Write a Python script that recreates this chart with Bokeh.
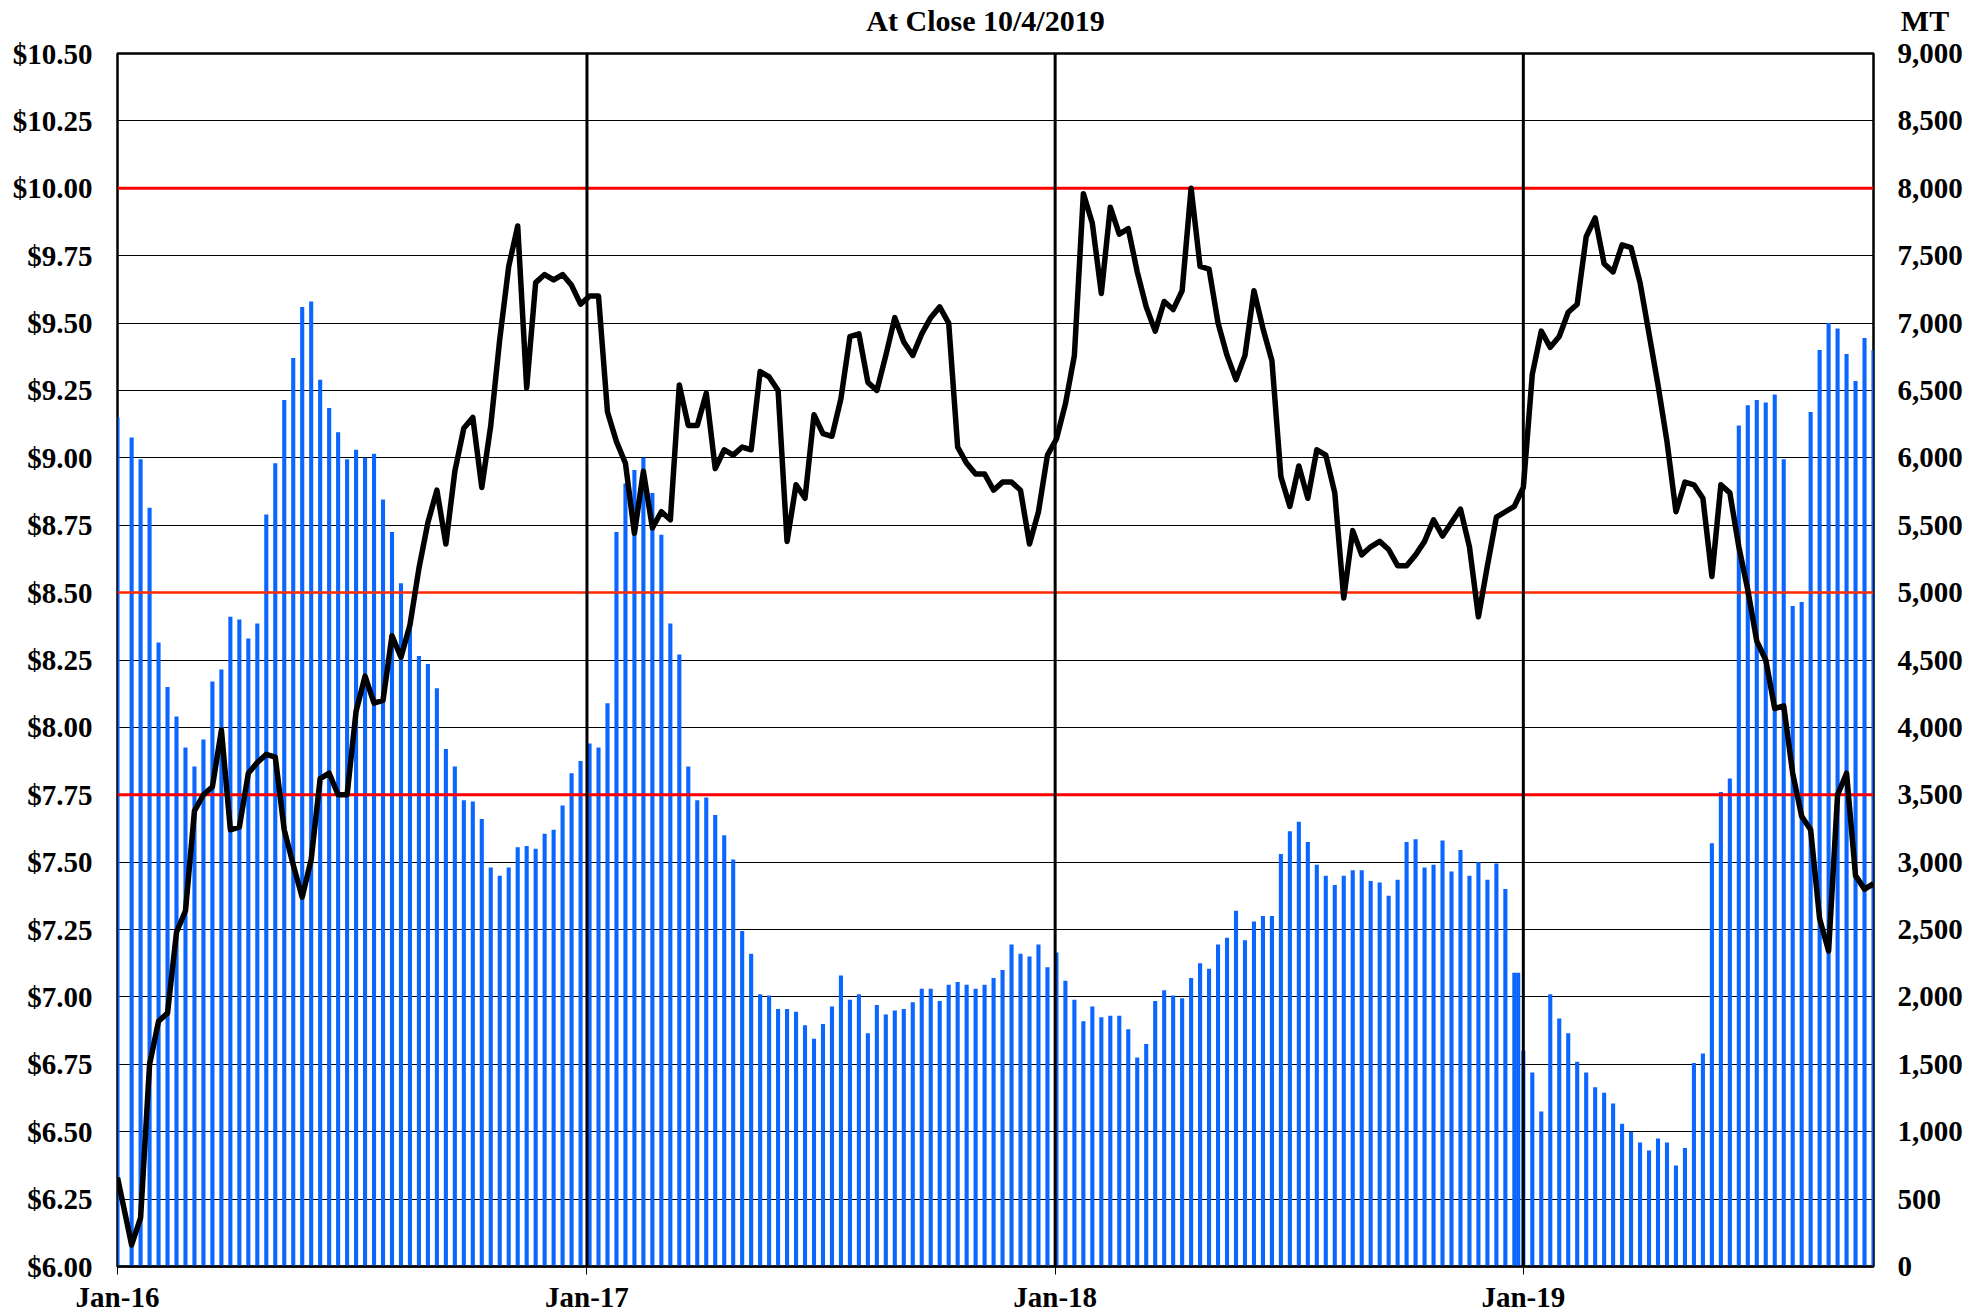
import pandas as pd
from bokeh.plotting import figure
from bokeh.models import (Range1d, LinearAxis, Span, FixedTicker, NumeralTickFormatter,
                          PrintfTickFormatter)
from bokeh.embed import file_html
from bokeh.resources import INLINE

# ---------------- data ----------------
title_text = "At Close 10/4/2019"
unit_text = "MT"

start_date = pd.Timestamp("2016-01-04")
dates = ([start_date]
         + list(pd.date_range("2016-01-15", "2018-12-28", freq="7D"))
         + [pd.Timestamp("2018-12-31")]
         + list(pd.date_range("2019-01-04", "2019-10-04", freq="7D")))

volume_mt = [
    6300, 6150, 5990, 5630, 4630, 4300, 4080, 3850, 3710, 3910,
    4340, 4430, 4820, 4800, 4660, 4770, 5580, 5960, 6430, 6740,
    7120, 7160, 6580, 6370, 6190, 5990, 6060, 6000, 6030, 5690,
    5450, 5070, 4760, 4530, 4470, 4290, 3840, 3710, 3460, 3450,
    3320, 2960, 2900, 2960, 3110, 3120, 3100, 3210, 3240, 3420,
    3660, 3750, 3880, 3850, 4180, 5450, 5810, 5910, 6000, 5740,
    5430, 4770, 4540, 3710, 3460, 3480, 3350, 3200, 3020, 2490,
    2320, 2020, 2010, 1910, 1910, 1890, 1790, 1690, 1800, 1930,
    2160, 1980, 2020, 1730, 1940, 1870, 1900, 1910, 1960, 2060,
    2060, 1970, 2090, 2110, 2090, 2060, 2090, 2140, 2200, 2390,
    2320, 2300, 2390, 2220, 2330, 2120, 1980, 1820, 1930, 1850,
    1860, 1860, 1760, 1550, 1650, 1970, 2050, 2010, 1990, 2140,
    2250, 2210, 2390, 2440, 2640, 2420, 2560, 2600, 2600, 3060,
    3230, 3300, 3150, 2980, 2900, 2830, 2900, 2940, 2940, 2860,
    2850, 2750, 2870, 3150, 3170, 2960, 2980, 3160, 2930, 3090,
    2900, 3000, 2870, 2990, 2800, 2180, 2180, 1600, 1440, 1150,
    2020, 1840, 1730, 1520, 1440, 1330, 1290, 1210, 1060, 1000,
    920, 860, 950, 920, 750, 880, 1510, 1580, 3140, 3520,
    3620, 6240, 6390, 6430, 6410, 6470, 5990, 4900, 4930, 6340,
    6800, 7000, 6960, 6770, 6570, 6890, 6800,
]

price = [
    6.33, 6.08, 6.18, 6.75, 6.91, 6.94, 7.24, 7.32, 7.69, 7.75,
    7.78, 7.99, 7.62, 7.63, 7.83, 7.87, 7.90, 7.89, 7.62, 7.49,
    7.37, 7.51, 7.81, 7.83, 7.75, 7.75, 8.06, 8.19, 8.09, 8.10,
    8.34, 8.26, 8.38, 8.59, 8.76, 8.88, 8.68, 8.95, 9.11, 9.15,
    8.89, 9.12, 9.44, 9.71, 9.86, 9.26, 9.65, 9.68, 9.66, 9.68,
    9.64, 9.57, 9.60, 9.60, 9.17, 9.06, 8.98, 8.72, 8.95, 8.74,
    8.80, 8.77, 9.27, 9.12, 9.12, 9.24, 8.96, 9.03, 9.01, 9.04,
    9.03, 9.32, 9.30, 9.25, 8.69, 8.90, 8.85, 9.16, 9.09, 9.08,
    9.22, 9.45, 9.46, 9.28, 9.25, 9.38, 9.52, 9.43, 9.38, 9.46,
    9.52, 9.56, 9.50, 9.04, 8.98, 8.94, 8.94, 8.88, 8.91, 8.91,
    8.88, 8.68, 8.80, 9.01, 9.07, 9.20, 9.38, 9.98, 9.87, 9.61,
    9.93, 9.83, 9.85, 9.69, 9.56, 9.47, 9.58, 9.55, 9.62, 10.00,
    9.71, 9.70, 9.50, 9.38, 9.29, 9.38, 9.62, 9.48, 9.36, 8.93,
    8.82, 8.97, 8.85, 9.03, 9.01, 8.87, 8.48, 8.73, 8.64, 8.67,
    8.69, 8.66, 8.60, 8.60, 8.64, 8.69, 8.77, 8.71, 8.76, 8.81,
    8.67, 8.41, 8.60, 8.78, 8.80, 8.82, 8.85, 8.89, 9.31, 9.47,
    9.41, 9.45, 9.54, 9.57, 9.82, 9.89, 9.72, 9.69, 9.79, 9.78,
    9.65, 9.46, 9.27, 9.06, 8.80, 8.91, 8.90, 8.85, 8.56, 8.90,
    8.87, 8.67, 8.51, 8.32, 8.25, 8.07, 8.08, 7.83, 7.67, 7.62,
    7.29, 7.17, 7.75, 7.83, 7.45, 7.40, 7.42,
]

ref_levels = [10.00, 8.50, 7.75]
ref_colors = ["#ff0000", "#ff2a00", "#ff0000"]
year_ticks = ["2016-01-04", "2017-01-04", "2018-01-04", "2019-01-04"]
year_labels = ["Jan-16", "Jan-17", "Jan-18", "Jan-19"]

price_ticks = [6.00 + 0.25 * i for i in range(19)]
mt_ticks = [500 * i for i in range(19)]

# ---------------- derived positions (days since first date) ----------------
days = [(d - start_date).days for d in dates]
tick_days = [(pd.Timestamp(t) - start_date).days for t in year_ticks]
x_end = days[-1]

FONT = "Liberation Serif"
W, H = 1988, 1315
B_LEFT, B_RIGHT, B_TOP, B_BOTTOM = 117, 115, 53, 49
FRAME_W = W - B_LEFT - B_RIGHT
FRAME_H = H - B_TOP - B_BOTTOM

p = figure(width=W, height=H, output_backend="svg", toolbar_location=None,
           x_range=Range1d(0, x_end), y_range=Range1d(6.0, 10.5),
           min_border_left=B_LEFT, min_border_right=B_RIGHT, min_border_top=B_TOP,
           min_border_bottom=B_BOTTOM, background_fill_color="white",
           border_fill_color="white")
p.title = None
p.extra_y_ranges = {"mt": Range1d(0, 9000)}
p.extra_x_ranges = {"top_px": Range1d(0, FRAME_W)}

p.outline_line_color = "black"
p.outline_line_width = 2.5

# bars
p.vbar(x=days, top=volume_mt, bottom=0, width=3.2, y_range_name="mt",
       fill_color="#0a66ff", line_color=None)

# reference lines
for lv, col in zip(ref_levels, ref_colors):
    p.segment(x0=[0], x1=[x_end], y0=[lv], y1=[lv], line_color=col,
              line_width=3 if col == "#ff0000" else 2.5)

# year lines
for td in tick_days[1:]:
    p.add_layout(Span(location=td, dimension="height", line_color="black",
                      line_width=3))

# price line
p.line(days, price, line_color="black", line_width=5.5, line_join="round")

# ---- bottom (date) axis
xa = p.below[0]
xa.ticker = FixedTicker(ticks=tick_days)
xa.major_label_overrides = {td: lab for td, lab in zip(tick_days, year_labels)}
xa.major_tick_out = 8
xa.major_tick_in = 0
xa.minor_tick_out = 0
xa.minor_tick_in = 0
xa.major_tick_line_color = "black"
xa.axis_line_color = "black"
xa.axis_line_width = 2
xa.major_label_standoff = 6

# ---- left (price) axis
ya = p.left[0]
ya.ticker = FixedTicker(ticks=price_ticks)
ya.formatter = PrintfTickFormatter(format="$%.2f")
ya.major_tick_out = 0
ya.major_tick_in = 0
ya.minor_tick_out = 0
ya.minor_tick_in = 0
ya.axis_line_color = None
ya.major_label_standoff = 25

# ---- right (MT) axis
right = LinearAxis(y_range_name="mt", ticker=FixedTicker(ticks=mt_ticks),
                   formatter=NumeralTickFormatter(format="0,0"))
right.major_tick_out = 0
right.major_tick_in = 0
right.minor_tick_out = 0
right.minor_tick_in = 0
right.axis_line_color = None
right.major_label_standoff = 24
p.add_layout(right, "right")

# ---- top text row (chart title and unit label) drawn as an axis above the frame
title_pos = 868            # frame-pixel centre of the title
unit_pos = FRAME_W - 1     # right edge of the frame; label padded to the right
top_axis = LinearAxis(x_range_name="top_px",
                      ticker=FixedTicker(ticks=[title_pos, unit_pos]))
top_axis.major_label_overrides = {title_pos: title_text,
                                  unit_pos: "\u00a0" * 14 + unit_text}
top_axis.axis_line_color = None
top_axis.major_tick_line_color = None
top_axis.major_tick_out = 0
top_axis.major_tick_in = 0
top_axis.minor_tick_out = 0
top_axis.minor_tick_in = 0
top_axis.major_label_standoff = 17
p.add_layout(top_axis, "above")

for ax in [xa, ya, right, top_axis]:
    ax.major_label_text_font = FONT
    ax.major_label_text_font_style = "bold"
    ax.major_label_text_font_size = "29px"
    ax.major_label_text_color = "black"
top_axis.major_label_text_font_size = "30px"

p.xgrid.grid_line_color = None
p.ygrid.ticker = FixedTicker(ticks=price_ticks)
p.ygrid.grid_line_color = "black"
p.ygrid.grid_line_width = 1

open("out.html", "w").write(file_html(p, INLINE))
